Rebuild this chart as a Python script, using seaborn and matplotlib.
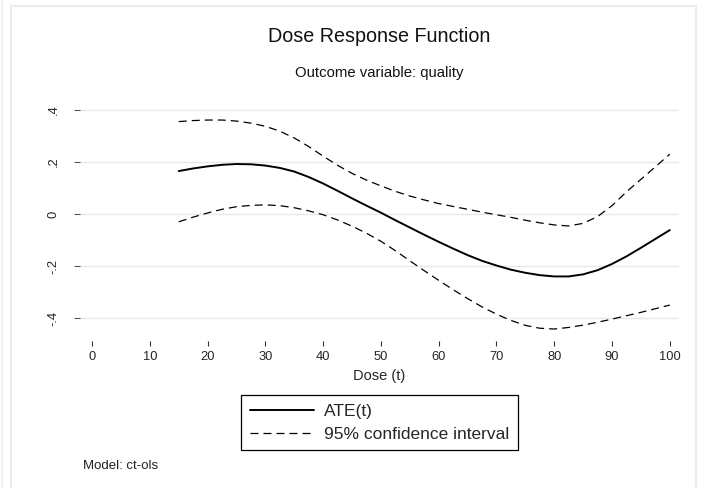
import seaborn as sns
import numpy as np
import pandas as pd
import matplotlib.pyplot as plt
from matplotlib.patches import Rectangle
from matplotlib.lines import Line2D

# values
dose = [15, 17.5, 20, 22.5, 25, 27.5, 30, 32.5, 35, 37.5, 40, 42.5, 45, 47.5, 50,
        52.5, 55, 57.5, 60, 62.5, 65, 67.5, 70, 72.5, 75, 77.5, 80, 82.5, 85,
        87.5, 90, 92.5, 95, 97.5, 100]
ate = [0.165, 0.175, 0.183, 0.189, 0.192, 0.191, 0.186, 0.177, 0.163, 0.142,
       0.117, 0.089, 0.060, 0.032, 0.005, -0.024, -0.052, -0.080, -0.107, -0.133,
       -0.158, -0.180, -0.198, -0.214, -0.226, -0.235, -0.240, -0.240, -0.232,
       -0.216, -0.192, -0.163, -0.130, -0.096, -0.062]
ci_upper = [0.355, 0.359, 0.361, 0.361, 0.357, 0.349, 0.337, 0.318, 0.292, 0.259,
            0.222, 0.187, 0.156, 0.130, 0.108, 0.087, 0.069, 0.054, 0.040, 0.029,
            0.018, 0.007, -0.003, -0.013, -0.024, -0.034, -0.042, -0.046, -0.036,
            -0.010, 0.032, 0.085, 0.133, 0.181, 0.230]
ci_lower = [-0.030, -0.012, 0.004, 0.018, 0.028, 0.033, 0.035, 0.032, 0.024, 0.012,
            -0.003, -0.023, -0.047, -0.074, -0.105, -0.141, -0.180, -0.218, -0.255,
            -0.291, -0.325, -0.357, -0.385, -0.409, -0.428, -0.439, -0.442, -0.436,
            -0.427, -0.416, -0.404, -0.391, -0.378, -0.364, -0.350]

x_ticks = [0, 10, 20, 30, 40, 50, 60, 70, 80, 90, 100]
y_ticks = [-0.4, -0.2, 0, 0.2, 0.4]
y_labels = ['-.4', '-.2', '0', '.2', '.4']

df = pd.DataFrame({'dose': dose, 'ate': ate, 'upper': ci_upper, 'lower': ci_lower})

sns.set_style('white')
plt.rcParams['font.family'] = ['Liberation Sans', 'DejaVu Sans']

W, H = 701, 488
fig = plt.figure(figsize=(W / 100, H / 100), dpi=100)
fig.patch.set_facecolor('white')

# Stata-like graph region outline
fig.patches.append(Rectangle((11 / W, -0.05), (696 - 11) / W, 1 - 6 / H + 0.05,
                             transform=fig.transFigure, fill=False,
                             edgecolor='#ececec', linewidth=1.5))
fig.add_artist(Line2D([1.5 / W, 1.5 / W], [0, 1], transform=fig.transFigure,
                      color='#ececec', linewidth=1.2))

left, right, top, bottom = 80, 679, 100, 335
ax = fig.add_axes([left / W, 1 - bottom / H, (right - left) / W, (bottom - top) / H])

dash = (0, (6.4, 4))
sns.lineplot(data=df, x='dose', y='ate', ax=ax, color='black', linewidth=1.4,
             label='ATE(t)', legend=False)
sns.lineplot(data=df, x='dose', y='upper', ax=ax, color='black', linewidth=0.9,
             linestyle=dash, label='95% confidence interval', legend=False)
sns.lineplot(data=df, x='dose', y='lower', ax=ax, color='black', linewidth=0.9,
             linestyle=dash, legend=False)

ax.set_xlim(-2.1, 101.6)
ax.set_ylim(-0.465, 0.438)

for s in ax.spines.values():
    s.set_visible(False)
ax.spines['bottom'].set_position(('outward', 4.5))

ax.set_yticks(y_ticks)
ax.set_yticklabels(y_labels, rotation=90, va='center', fontsize=9.3)
ax.set_xticks(x_ticks)
ax.set_xticklabels([str(t) for t in x_ticks], fontsize=9.3)
ax.tick_params(axis='y', direction='out', length=4.3, width=0.8, color='#555555',
               pad=10.5, left=True)
ax.tick_params(axis='x', direction='out', length=3.8, width=0.8, color='#333333',
               pad=3.2, bottom=True)
ax.grid(axis='y', color='#e8e8e8', linewidth=1.0)
ax.grid(axis='x', visible=False)
ax.set_axisbelow(True)

ax.set_xlabel('Dose (t)', fontsize=10.5, labelpad=4.5)
ax.set_ylabel('')

fig.text(379 / W, 1 - 37 / H, 'Dose Response Function', ha='center', va='center',
         fontsize=14.2, color='#111111')
fig.text(379 / W, 1 - 73 / H, 'Outcome variable: quality', ha='center', va='center',
         fontsize=10.7, color='#111111')
fig.text(83 / W, 1 - 466 / H, 'Model: ct-ols', ha='left', va='center',
         fontsize=9.5, color='#222222')

handles, labels = ax.get_legend_handles_labels()
leg = fig.legend(handles, labels, loc='upper center', bbox_to_anchor=(379.5 / W, 1 - 395 / H),
                 fontsize=12.5, frameon=True, fancybox=False, edgecolor='black',
                 framealpha=1, handlelength=3.7, handletextpad=0.6,
                 borderpad=0.5, labelspacing=0.44, borderaxespad=0)
leg.get_frame().set_linewidth(0.9)

fig.savefig('out.png', dpi=100)
